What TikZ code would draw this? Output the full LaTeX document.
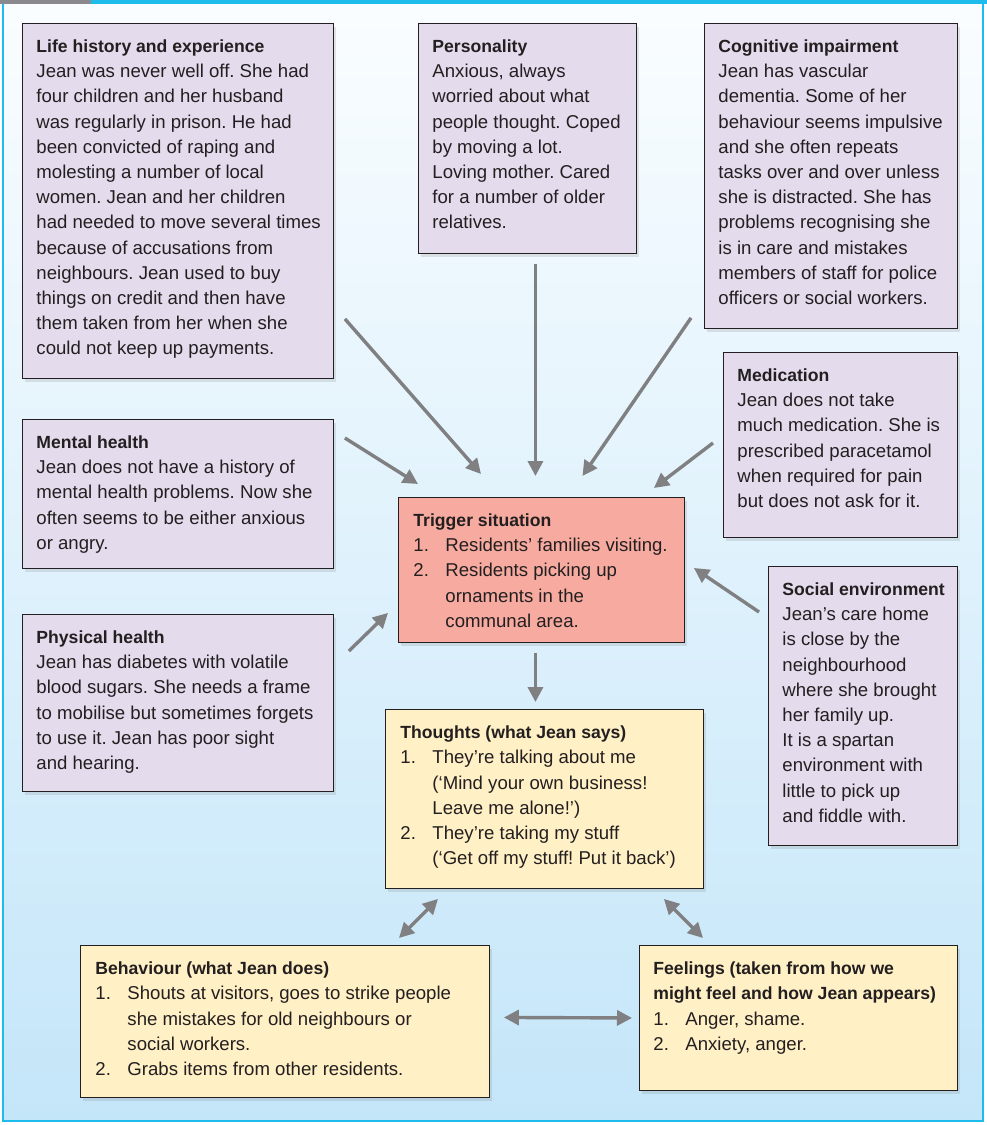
\documentclass[tikz,border=0pt]{standalone}
\usepackage{fontspec}
\setmainfont{Liberation Sans}
\usetikzlibrary{arrows.meta,shadows}

\definecolor{lilac}{RGB}{228,219,236}
\definecolor{salmon}{RGB}{247,171,160}
\definecolor{cream}{RGB}{255,240,197}
\definecolor{boxline}{RGB}{35,31,32}
\definecolor{arrowgrey}{RGB}{128,128,130}
\definecolor{framecyan}{RGB}{30,188,236}
\definecolor{bargrey}{RGB}{138,138,142}
\definecolor{bgtop}{RGB}{250,253,255}
\definecolor{bgbot}{RGB}{196,230,249}

% box text: width, height, lines
\newcommand{\boxtext}[3]{\parbox[c][#2][t]{#1}{\frenchspacing\fontsize{18.6}{25.2}\selectfont\color{boxline}\begin{tabular}[t]{@{}l@{}}#3\end{tabular}}}
\newcommand{\hd}[1]{{\fontsize{17.6}{25.2}\selectfont\bfseries #1}}
\newcommand{\itm}[1]{\makebox[32pt][l]{#1}}
\newcommand{\cont}{\hspace*{32pt}}

\tikzset{
  panel/.style={draw=boxline, line width=0.9pt, inner sep=0pt, anchor=north west,
    drop shadow={shadow xshift=3pt, shadow yshift=-4pt, opacity=0.2}},
  lilacpanel/.style={panel, fill=lilac},
  triggerpanel/.style={panel, fill=salmon},
  creampanel/.style={panel, fill=cream},
  arr/.style={draw=arrowgrey, line width=3.4pt, -{Triangle[length=15pt,width=15pt]}},
  dblarr/.style={draw=arrowgrey, line width=3.4pt, {Triangle[length=15pt,width=15pt]}-{Triangle[length=15pt,width=15pt]}},
}

\begin{document}
\begin{tikzpicture}[x=1pt,y=1pt]
\useasboundingbox (0,0) rectangle (987,-1125);

% background and frame
\fill[top color=bgtop, bottom color=bgbot] (3,-3.5) rectangle (983,-1121);
\draw[framecyan, line width=1.3pt] (3,-3.5) rectangle (983,-1121);
\fill[framecyan] (0,0) rectangle (987,-3.5);
\fill[bargrey] (0,0) rectangle (91,-3.5);

% influences
\node[lilacpanel, minimum width=311pt, minimum height=355pt] (life) at (22,-23) {\boxtext{283pt}{332pt}{%
\hd{Life history and experience}\\
Jean was never well off. She had\\
four children and her husband\\
was regularly in prison. He had\\
been convicted of raping and\\
molesting a number of local\\
women. Jean and her children\\
had needed to move several times\\
because of accusations from\\
neighbours. Jean used to buy\\
things on credit and then have\\
them taken from her when she\\
could not keep up payments.}};

\node[lilacpanel, minimum width=218pt, minimum height=230pt] (pers) at (418,-23) {\boxtext{190pt}{207pt}{%
\hd{Personality}\\
Anxious, always\\
worried about what\\
people thought. Coped\\
by moving a lot.\\
Loving mother. Cared\\
for a number of older\\
relatives.}};

\node[lilacpanel, minimum width=253pt, minimum height=305pt] (cog) at (704,-23) {\boxtext{225pt}{282pt}{%
\hd{Cognitive impairment}\\
Jean has vascular\\
dementia. Some of her\\
behaviour seems impulsive\\
and she often repeats\\
tasks over and over unless\\
she is distracted. She has\\
problems recognising she\\
is in care and mistakes\\
members of staff for police\\
officers or social workers.}};

\node[lilacpanel, minimum width=234pt, minimum height=185pt] (med) at (723,-352) {\boxtext{206pt}{162pt}{%
\hd{Medication}\\
Jean does not take\\
much medication. She is\\
prescribed paracetamol\\
when required for pain\\
but does not ask for it.}};

\node[lilacpanel, minimum width=311pt, minimum height=149pt] (mental) at (22,-419) {\boxtext{283pt}{126pt}{%
\hd{Mental health}\\
Jean does not have a history of\\
mental health problems. Now she\\
often seems to be either anxious\\
or angry.}};

\node[lilacpanel, minimum width=311pt, minimum height=177pt] (phys) at (22,-614) {\boxtext{283pt}{154pt}{%
\hd{Physical health}\\
Jean has diabetes with volatile\\
blood sugars. She needs a frame\\
to mobilise but sometimes forgets\\
to use it. Jean has poor sight\\
and hearing.}};

\node[lilacpanel, minimum width=189pt, minimum height=279pt] (social) at (768,-566) {\boxtext{161pt}{256pt}{%
\hd{Social environment}\\
Jean’s care home\\
is close by the\\
neighbourhood\\
where she brought\\
her family up.\\
It is a spartan\\
environment with\\
little to pick up\\
and fiddle with.}};

% trigger and responses
\node[triggerpanel, minimum width=286pt, minimum height=145pt] (trigger) at (398,-497) {\boxtext{256pt}{122pt}{%
\hd{Trigger situation}\\
\itm{1.}Residents’ families visiting.\\
\itm{2.}Residents picking up\\
\cont ornaments in the\\
\cont communal area.}};

\node[creampanel, minimum width=318pt, minimum height=179pt] (thoughts) at (385,-709) {\boxtext{288pt}{156pt}{%
\hd{Thoughts (what Jean says)}\\
\itm{1.}They’re talking about me\\
\cont(‘Mind your own business!\\
\cont Leave me alone!’)\\
\itm{2.}They’re taking my stuff\\
\cont(‘Get off my stuff! Put it back’)}};

\node[creampanel, minimum width=409pt, minimum height=152pt] (beh) at (80,-945) {\boxtext{379pt}{129pt}{%
\hd{Behaviour (what Jean does)}\\
\itm{1.}Shouts at visitors, goes to strike people\\
\cont she mistakes for old neighbours or\\
\cont social workers.\\
\itm{2.}Grabs items from other residents.}};

\node[creampanel, minimum width=318pt, minimum height=145pt] (feel) at (639,-945) {\boxtext{290pt}{122pt}{%
\hd{Feelings (taken from how we}\\
\hd{might feel and how Jean appears)}\\
\itm{1.}Anger, shame.\\
\itm{2.}Anxiety, anger.}};

% arrows into the trigger
\draw[arr] ([shift={(11,60)}]life.south east) -- ([shift={(83,23)}]trigger.north west);
\draw[arr] ([shift={(8,-10)}]pers.south) -- ([shift={(-6,21)}]trigger.north);
\draw[arr] ([shift={(-13,11)}]cog.south west) -- ([shift={(41,21)}]trigger.north);
\draw[arr] ([shift={(11,-19)}]mental.north east) -- ([shift={(20,13)}]trigger.north west);
\draw[arr] ([shift={(-10,2)}]med.west) -- ([shift={(-31,9)}]trigger.north east);
\draw[arr] ([shift={(15,-37)}]phys.north east) -- ([shift={(-10,30)}]trigger.south west);
\draw[arr] ([shift={(-9,-46)}]social.north west) -- ([shift={(9,2)}]trigger.east);

% cycle
\draw[arr] ([shift={(-6,-10)}]trigger.south) -- ([shift={(-9,7)}]thoughts.north);
\draw[dblarr] ([shift={(53,-10)}]thoughts.south west) -- ([shift={(319,7)}]beh.north west);
\draw[dblarr] ([shift={(-40,-10)}]thoughts.south east) -- ([shift={(64,7)}]feel.north west);
\draw[dblarr] ([shift={(14,4)}]beh.east) -- ([shift={(-7,0)}]feel.west);
\end{tikzpicture}
\end{document}
